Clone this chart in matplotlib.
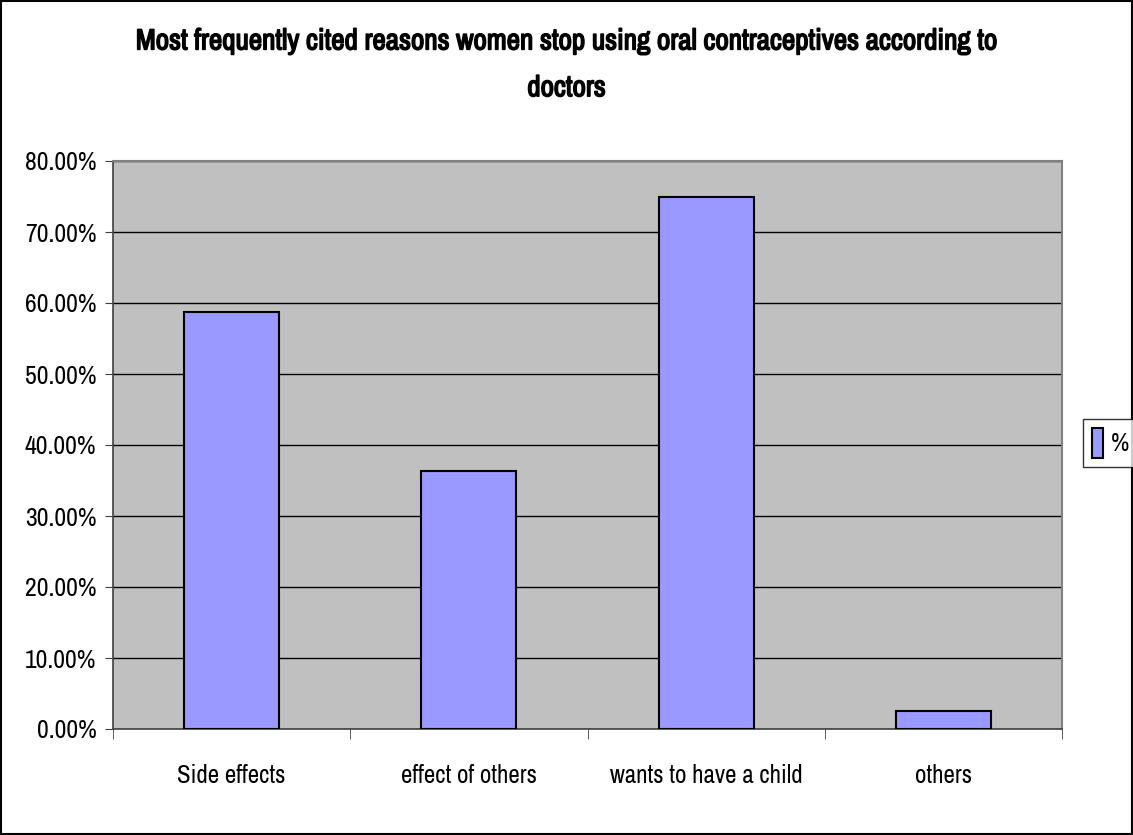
import matplotlib.pyplot as plt
import matplotlib.patheffects as pe
from matplotlib.patches import Rectangle
from matplotlib.ticker import FuncFormatter, FixedLocator

categories = ['Side effects', 'effect of others', 'wants to have a child', 'others']
values = [0.588, 0.363, 0.750, 0.025]
series_name = '%'

plt.rcParams['font.family'] = ['Liberation Sans Narrow', 'Archivo Narrow', 'PT Sans Narrow',
                               'Roboto Condensed', 'Liberation Sans', 'DejaVu Sans']

fig = plt.figure(figsize=(11.33, 8.35), dpi=100)
ax = fig.add_axes([113 / 1133, 1 - 729 / 835, (1062 - 113) / 1133, (729 - 161) / 835])
ax.set_facecolor('#C0C0C0')

x = list(range(len(categories)))
ax.bar(x, values, width=0.4, color='#9999FF', edgecolor='black', linewidth=1.5,
       label=series_name, zorder=3)

ax.set_xlim(-0.5, len(categories) - 0.5)
ax.set_ylim(0, 0.8)
ax.set_yticks([i / 10 for i in range(9)])
ax.yaxis.set_major_formatter(FuncFormatter(lambda v, p: '{:.2f}%'.format(v * 100)))
ax.grid(axis='y', color='black', linewidth=1, zorder=1)

ax.set_xticks(x)
ax.set_xticklabels(categories, fontsize=18)
ax.tick_params(axis='x', which='major', length=0, pad=25)
ax.xaxis.set_minor_locator(FixedLocator([i - 0.5 for i in range(len(categories) + 1)]))
ax.tick_params(axis='x', which='minor', length=7, color='#404040')
ax.tick_params(axis='y', labelsize=18.5, length=6, color='#404040', pad=6)

for s in ['left', 'bottom']:
    ax.spines[s].set_color('#404040')
    ax.spines[s].set_linewidth(1.2)
for s in ['top', 'right']:
    ax.spines[s].set_color('#808080')
    ax.spines[s].set_linewidth(1.5)

bold = [pe.withStroke(linewidth=1.1, foreground='black')]
fig.text(0.5, 0.951, 'Most frequently cited reasons women stop using oral contraceptives according to',
         ha='center', va='center', fontsize=21, fontweight='bold', path_effects=bold)
fig.text(0.5, 0.895, 'doctors', ha='center', va='center', fontsize=21, fontweight='bold',
         path_effects=bold)

leg = fig.legend(loc='center left', bbox_to_anchor=(1083 / 1133, 1 - 443 / 835),
                 fontsize=18, frameon=True, fancybox=False, handlelength=0.45,
                 handleheight=1.5, handletextpad=0.3, borderpad=0.35, borderaxespad=0)
leg.get_frame().set_edgecolor('black')
leg.get_frame().set_linewidth(1)

fig.patches.append(Rectangle((0.001, 0.001), 0.998, 0.998, transform=fig.transFigure,
                             fill=False, edgecolor='black', linewidth=1.5))

fig.savefig('out.png', dpi=100)
